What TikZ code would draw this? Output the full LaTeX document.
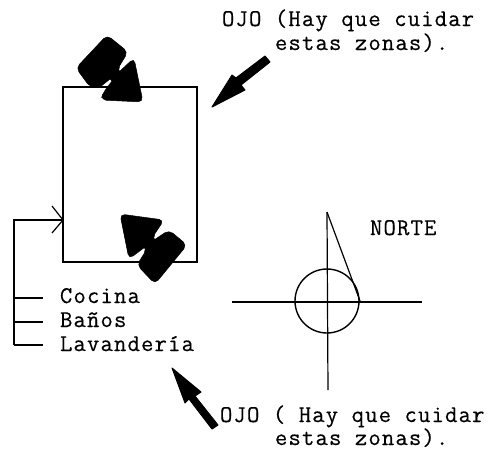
\documentclass[tikz,border=0pt]{standalone}
\usepackage{fontspec}
\setmonofont{Latin Modern Mono}[LetterSpace=4.8,FakeBold=0.4]
\tikzset{
  lbl/.style={anchor=base west,inner sep=0pt,outer sep=0pt,font=\fontsize{24}{24}\selectfont\ttfamily},
  ln/.style={line width=1.2pt,black},
  blob/.style={fill=black,draw=black,line width=0.5pt,rounded corners=5pt},
  bigarrow/.style={fill=black,draw=black,line width=1pt,line join=round}
}
\begin{document}
\begin{tikzpicture}[x=1pt,y=-1pt]
\useasboundingbox (0,0) rectangle (491,451);
% labels
\node[lbl] (t1) at (222,26) {OJO (Hay que cuidar};
\node[lbl] (t2) at (275,50) {estas zonas).};
\node[lbl] (t3) at (220,422) {OJO ( Hay que cuidar};
\node[lbl] (t4) at (275,445) {estas zonas).};
\node[lbl] (norte) at (370,235) {NORTE};
\node[lbl] (coc) at (60,303) {Cocina};
\node[lbl] (ban) at (60,327) {Baños};
\node[lbl] (lav) at (60,351) {Lavandería};
% rectangle
\draw[ln] (63,87) rectangle (197,262);
% top blob
\fill[blob] (107,35) -- (128,52) -- (117,70) [sharp corners] -- (119,72) [rounded corners=5pt] -- (134,58) -- (143,102) -- (101,100) -- (103,93) [sharp corners] -- (112,81) -- (110,79) -- (100,87) [rounded corners=5pt] -- (90,87) -- (76,68) -- cycle;
% bottom blob
\fill[blob] (120,214) -- (164,220) -- (152,238) [sharp corners] -- (154,240) [rounded corners=5pt] -- (169,230) -- (187,245) -- (155,284) -- (137,265) -- (147,249) [sharp corners] -- (145,247) -- (133,256) [rounded corners=5pt] -- (129,259) -- cycle;
% connector
\coordinate (a0) at (14,345);
\coordinate (a1) at (14,220);
\coordinate (a2) at (63,220);
\coordinate (b1) at (52,206);
\coordinate (b2) at (52,233);
\draw[ln] (a0) -- (a1) -- (a2);
\draw[ln] (b1) -- (a2) -- (b2);
\draw[ln] (14,298) -- (43,298);
\draw[ln] (14,322) -- (43,322);
\draw[ln] (14,345) -- (43,345);
% arrows
\fill[bigarrow] (212,107) -- (232,75) -- (236,78) -- (265,56) -- (270,62) -- (241,85) -- (245,90) -- cycle;
\fill[bigarrow] (172,368) -- (201,392) -- (195,396) -- (218,425) -- (212,429) -- (189,399) -- (185,403) -- cycle;
% compass
\coordinate (nt) at (327,212);
\coordinate (ne) at (360,301);
\draw[ln] (nt) -- (328,390);
\draw[ln] (232,302) -- (422,302);
\draw[ln] (nt) -- (ne);
\draw[line width=1.4pt] (327,301) circle (32);
\end{tikzpicture}
\end{document}
